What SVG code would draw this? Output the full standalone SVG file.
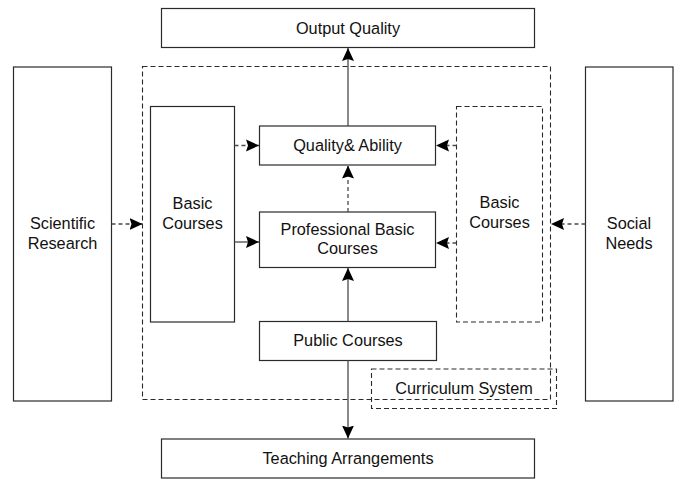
<svg xmlns="http://www.w3.org/2000/svg" width="678" height="479" viewBox="0 0 678 479">
  <style>
    .box { fill: #ffffff; stroke: #2a2a2a; stroke-width: 1.2; }
    .dbox { fill: none; stroke: #2a2a2a; stroke-width: 1.1; stroke-dasharray: 5 3; }
    .lbl { font-family: "Liberation Sans", Arial, sans-serif; font-size: 16.3px; fill: #111111; text-anchor: middle; }
    .solid { fill: none; stroke: #4a4a4a; stroke-width: 1.3; }
    .dash { fill: none; stroke: #4a4a4a; stroke-width: 1.3; stroke-dasharray: 4 3; }
  </style>
  <defs>
    <marker id="arrow" viewBox="-13 -6.5 13 13" refX="0" refY="0" markerWidth="13" markerHeight="13" markerUnits="userSpaceOnUse" orient="auto">
      <path d="M0,0 L-13,-6 L-11,0 L-13,6 Z" fill="#000000"/>
    </marker>
  </defs>

  <rect width="678" height="479" fill="#ffffff"/>

  <!-- curriculum system frame -->
  <g id="curriculum-frame">
    <rect class="dbox" x="142.5" y="66.5" width="408" height="333"/>
  </g>

  <g id="output-quality">
    <rect class="box" x="161.5" y="8.5" width="373" height="39"/>
    <text class="lbl" x="348" y="33.5">Output Quality</text>
  </g>

  <g id="scientific-research">
    <rect class="box" x="13.5" y="67" width="98" height="334"/>
    <text class="lbl" x="62.5" y="229">Scientific</text>
    <text class="lbl" x="62.5" y="249">Research</text>
  </g>

  <g id="social-needs">
    <rect class="box" x="585.5" y="67" width="87.5" height="334"/>
    <text class="lbl" x="629" y="229">Social</text>
    <text class="lbl" x="629" y="249">Needs</text>
  </g>

  <g id="basic-courses-left">
    <rect class="box" x="150.5" y="106.5" width="84" height="215.5"/>
    <text class="lbl" x="192.5" y="209">Basic</text>
    <text class="lbl" x="192.5" y="229">Courses</text>
  </g>

  <g id="basic-courses-right">
    <rect class="dbox" x="456.5" y="106.5" width="86" height="215.5"/>
    <text class="lbl" x="499.5" y="208">Basic</text>
    <text class="lbl" x="499.5" y="228">Courses</text>
  </g>

  <g id="quality-ability">
    <rect class="box" x="259.5" y="126" width="176" height="39"/>
    <text class="lbl" x="347.5" y="151">Quality&amp; Ability</text>
  </g>

  <g id="professional-basic">
    <rect class="box" x="259.5" y="212" width="176" height="55.5"/>
    <text class="lbl" x="347.5" y="234.5">Professional Basic</text>
    <text class="lbl" x="347.5" y="254">Courses</text>
  </g>

  <g id="public-courses">
    <rect class="box" x="259.5" y="321.5" width="177" height="39"/>
    <text class="lbl" x="348" y="345.5">Public Courses</text>
  </g>

  <g id="curriculum-system">
    <rect class="dbox" x="371.5" y="369" width="185" height="39.5"/>
    <text class="lbl" x="464" y="393.5">Curriculum System</text>
  </g>

  <g id="teaching-arrangements">
    <rect class="box" x="161.5" y="439" width="373" height="39"/>
    <text class="lbl" x="348" y="463.5">Teaching Arrangements</text>
  </g>

  <!-- connectors -->
  <g id="connectors">
    <line class="solid" x1="348" y1="126" x2="348" y2="48" marker-end="url(#arrow)"/>
    <line class="dash" x1="348" y1="212" x2="348" y2="165.5" marker-end="url(#arrow)"/>
    <line class="solid" x1="348" y1="321.5" x2="348" y2="268" marker-end="url(#arrow)"/>
    <line class="solid" x1="348" y1="360.5" x2="348" y2="438.5" marker-end="url(#arrow)"/>
    <line class="dash" x1="234.5" y1="145.5" x2="259" y2="145.5" marker-end="url(#arrow)"/>
    <line class="solid" x1="234.5" y1="242" x2="259" y2="242" marker-end="url(#arrow)"/>
    <line class="dash" x1="456.5" y1="145.5" x2="436" y2="145.5" marker-end="url(#arrow)"/>
    <line class="dash" x1="456.5" y1="243" x2="436" y2="243" marker-end="url(#arrow)"/>
    <line class="dash" x1="111.5" y1="224" x2="142.5" y2="224" marker-end="url(#arrow)"/>
    <line class="dash" x1="585.5" y1="224" x2="551" y2="224" marker-end="url(#arrow)"/>
  </g>
</svg>
